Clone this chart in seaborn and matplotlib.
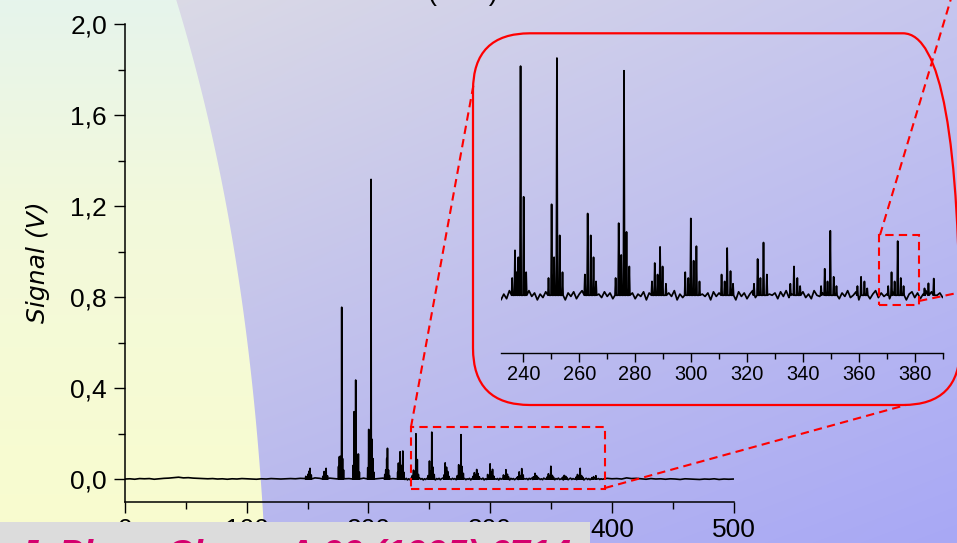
import numpy as np
import pandas as pd
import matplotlib
matplotlib.use("Agg")
import matplotlib.pyplot as plt
import seaborn as sns
from matplotlib.patches import FancyBboxPatch, Rectangle
from matplotlib.lines import Line2D
from matplotlib.ticker import FixedLocator, FixedFormatter, MultipleLocator

# ---------------------------------------------------------------
# Mass spectrum: peak lines (mass in amu, signal in V)
# ---------------------------------------------------------------
peak_mass = [
    148.5, 150.5, 151.3, 152.0, 153.0,
    162.5, 163.6, 164.5, 165.2, 166.3,
    175.4, 176.1, 176.8, 177.4, 178.0, 178.7, 179.5,
    187.4, 188.2, 188.8, 189.5, 190.2, 190.9, 191.7, 192.5,
    199.4, 200.2, 200.9, 201.5, 202.1, 202.8, 203.6, 204.4,
    213.4, 214.2, 215.0, 215.6, 216.4, 217.2,
    224.0, 224.6, 225.3, 226.0, 226.8, 227.5, 228.2, 229.0,
    236.0, 237.0, 237.6, 238.2, 239.0, 240.1, 241.0,
    249.0, 250.1, 251.0, 252.0, 253.0, 254.0,
    262.0, 263.0, 264.1, 265.1, 266.0,
    273.0, 274.1, 275.0, 276.0, 276.9, 277.9,
    286.0, 287.0, 288.0, 288.9, 289.8, 291.0,
    297.9, 299.0, 299.9, 300.9, 301.9, 303.0,
    310.9, 312.0, 312.9, 314.1, 315.0,
    322.5, 323.8, 324.8, 325.9, 327.1,
    335.5, 336.8, 338.0, 339.0,
    346.5, 347.8, 348.8, 349.8, 351.0, 352.0,
    359.5, 360.8, 362.0, 363.0,
    370.5, 371.7, 372.8, 373.9, 375.0, 376.0,
    383.5, 384.9, 386.8,
]
peak_signal = [
    0.012, 0.022, 0.035, 0.047, 0.018,
    0.012, 0.033, 0.028, 0.047, 0.014,
    0.055, 0.098, 0.100, 0.070, 0.755, 0.090, 0.040,
    0.060, 0.296, 0.130, 0.435, 0.110, 0.090, 0.110, 0.030,
    0.050, 0.218, 0.160, 0.120, 1.317, 0.175, 0.090, 0.030,
    0.020, 0.040, 0.090, 0.135, 0.040, 0.015,
    0.030, 0.070, 0.050, 0.120, 0.060, 0.040, 0.123, 0.030,
    0.015, 0.039, 0.020, 0.033, 0.199, 0.0855, 0.020,
    0.015, 0.079, 0.033, 0.206, 0.052, 0.020,
    0.018, 0.071, 0.052, 0.033, 0.012,
    0.015, 0.0626, 0.035, 0.195, 0.055, 0.025,
    0.012, 0.028, 0.018, 0.042, 0.025, 0.010,
    0.020, 0.015, 0.0667, 0.030, 0.0426, 0.012,
    0.018, 0.012, 0.041, 0.021, 0.010,
    0.010, 0.0315, 0.015, 0.0458, 0.018,
    0.010, 0.025, 0.015, 0.008,
    0.008, 0.023, 0.012, 0.056, 0.016, 0.008,
    0.008, 0.016, 0.012, 0.006,
    0.008, 0.020, 0.012, 0.047, 0.015, 0.008,
    0.006, 0.0104, 0.0145,
]

# Baseline readings (mV) between the peaks
base_low_mass = np.arange(0, 229, 4)
base_low_mv = [
    0, 1, -1, 2, 1, 2, -1, 1, 3, 4,
    6, 8, 5, 6, 4, 3, 2, 1, 2, 0,
    1, -1, 1, 0, 2, 1, 0, -1, 1, 0,
    2, 1, 0, 1, 2, 1, 3, 2, 4, 5,
    3, 6, 4, 2, 3, 1, 2, 3, 1, 4,
    2, 3, 2, 4, 3, 2, 1, 3,
]
base_mid_mass = np.arange(230, 393, 1)
base_mid_mv = [
    -2, 3, -4, 1, -3, 4, -1, 2, -3, 1,
    3, -2, 4, -1, 2, -4, 1, -2, 3, 0,
    2, -3, 4, -2, 1, -4, 2, -1, 3, -3,
    1, 4, -2, 3, -1, 2, -4, 1, -2, 3,
    -1, 2, -3, 4, 0, 3, -2, 1, -4, 2,
    -3, 1, -1, 3, -4, 2, 0, 4, -2, 1,
    3, -3, 2, -1, 4, -4, 1, -2, 2, 0,
    4, -2, 3, -3, 1, -1, 2, -4, 3, -1,
    2, -3, 4, 0, -2, 1, -4, 3, -1, 2,
    -3, 1, 4, -2, 2, -1, 3, -4, 1, 0,
    2, -3, 3, -1, 4, -2, 1, -4, 2, -1,
    3, -2, 1, -3, 4, 0, -1, 2, -4, 3,
    -2, 1, 3, -3, 2, -1, 4, -2, 0, 3,
    -4, 2, -1, 3, -3, 1, 4, -2, 2, -1,
    1, -3, 3, -2, 4, -1, 2, -4, 1, 3,
    -2, 2, -3, 1, 4, -1, 3, -3, 0, 2,
    -2, 1, -1,
]
base_high_mass = np.arange(396, 501, 4)
base_high_mv = [
    3, 1, 2, 0, 5, 2, 3, 1, -1, 2,
    0, 1, -1, 1, 0, -2, 1, 0, -1, -2,
    0, -1, 1, -2, 0, -1, 0,
]

# Axis ticks
main_xticks = [0, 100, 200, 300, 400, 500]
main_xlabels = ["0", "100", "200", "300", "400", "500"]
main_yticks = [0.0, 0.4, 0.8, 1.2, 1.6, 2.0]
main_ylabels = ["0,0", "0,4", "0,8", "1,2", "1,6", "2,0"]
zoom_xticks = [240, 260, 280, 300, 320, 340, 360, 380]
zoom_xlabels = ["240", "260", "280", "300", "320", "340", "360", "380"]

# ---------------------------------------------------------------
# Assemble the trace: baseline points plus narrow peak lines
# ---------------------------------------------------------------
pk_m = np.array(peak_mass)
pk_v = np.array(peak_signal)
base_m = np.concatenate([base_low_mass, base_mid_mass, base_high_mass]).astype(float)
base_v = np.concatenate([base_low_mv, base_mid_mv, base_high_mv]) / 1000.0
keep = np.min(np.abs(base_m[:, None] - pk_m[None, :]), axis=1) > 0.3
foot = 0.22
xs = np.concatenate([base_m[keep], pk_m - foot, pk_m, pk_m + foot])
ys = np.concatenate([base_v[keep], np.zeros_like(pk_m), pk_v, np.zeros_like(pk_m)])
order = np.argsort(xs, kind="stable")
spectrum = pd.DataFrame({"mass": xs[order], "signal": ys[order]})

# ---------------------------------------------------------------
# Figure
# ---------------------------------------------------------------
sns.set_style("ticks")
plt.rcParams["font.family"] = ["Liberation Sans", "DejaVu Sans"]

W, H = 957, 543
fig = plt.figure(figsize=(W / 100, H / 100), dpi=100)


def fx(px):
    return px / W


def fy(py):
    return 1 - py / H


# Slide background: pale yellow panel on the left, lavender sweep on the right
bg = fig.add_axes([0, 0, 1, 1], zorder=-10)
yy, xx = np.mgrid[0:H, 0:W].astype(float)
u = xx / (W - 1)
v = yy / (H - 1)
tl, tr = np.array([223, 222, 228]), np.array([198, 198, 238])
bl, br = np.array([188, 188, 236]), np.array([168, 168, 245])
right = ((1 - u)[..., None] * (1 - v)[..., None] * tl + u[..., None] * (1 - v)[..., None] * tr
         + (1 - u)[..., None] * v[..., None] * bl + u[..., None] * v[..., None] * br)
stops_y = np.array([0, 200, 543])
stops_c = np.array([[230, 244, 236], [242, 249, 220], [249, 252, 206]])
left = np.stack([np.interp(yy, stops_y, stops_c[:, k]) for k in range(3)], axis=-1)
edge_coef = np.polyfit([0, 100, 200, 270, 437, 520, 543], [177, 200, 227, 238, 255, 263, 265], 3)
edge = np.polyval(edge_coef, yy)
alpha = np.clip(edge - xx + 0.5, 0, 1)[..., None]
img = (left * alpha + right * (1 - alpha)) / 255.0
bg.imshow(img, extent=[0, 1, 0, 1], aspect="auto", interpolation="bilinear")
bg.set_xlim(0, 1)
bg.set_ylim(0, 1)
bg.axis("off")

# Main spectrum
ax = fig.add_axes([fx(125), fy(502), (733.7 - 125) / W, (502 - 24) / H])
ax.patch.set_alpha(0)
sns.lineplot(data=spectrum, x="mass", y="signal", ax=ax, color="black",
             lw=1.2, estimator=None, sort=False)
ax.set_xlim(0, 500)
ax.set_ylim(-0.101, 2.0)
ax.set_xlabel("")
ax.set_ylabel("")
for s in ("top", "right"):
    ax.spines[s].set_visible(False)
for s in ("left", "bottom"):
    ax.spines[s].set_linewidth(1.1)
    ax.spines[s].set_color("black")
ax.xaxis.set_major_locator(FixedLocator(main_xticks))
ax.xaxis.set_major_formatter(FixedFormatter(main_xlabels))
ax.yaxis.set_major_locator(FixedLocator(main_yticks))
ax.yaxis.set_major_formatter(FixedFormatter(main_ylabels))
ax.xaxis.set_minor_locator(MultipleLocator(50))
ax.yaxis.set_minor_locator(MultipleLocator(0.2))
ax.tick_params(which="major", length=8, width=1.0, direction="out", labelsize=19, colors="black")
ax.tick_params(which="minor", length=5, width=1.0, direction="out", colors="black")
ax.tick_params(axis="x", which="major", pad=3.5)
ax.tick_params(axis="y", which="major", pad=5)

dash = (0, (4, 2.5))
ax.add_patch(Rectangle((235, -0.043), 159.3, 0.273, fill=False, ec="red",
                       lw=1.5, ls=dash, zorder=5, clip_on=False))

fig.text(fx(38), fy(262), "Signal (V)", rotation=90, ha="center", va="center",
         fontsize=18, family=["DejaVu Sans"], style="italic", color="black")

# Zoomed view of the 232-390 amu range
ins = fig.add_axes([fx(501), fy(353.3), (942.7 - 501) / W, (353.3 - 50) / H])
ins.patch.set_alpha(0)
sns.lineplot(data=spectrum, x="mass", y="signal", ax=ins, color="black",
             lw=1.25, estimator=None, sort=False)
ins.set_xlim(232, 390)
ins.set_ylim(-0.0504, 0.213)
ins.set_xlabel("")
ins.set_ylabel("")
for s in ("top", "right", "left"):
    ins.spines[s].set_visible(False)
ins.spines["bottom"].set_linewidth(1.0)
ins.spines["bottom"].set_color("black")
ins.set_yticks([])
ins.xaxis.set_major_locator(FixedLocator(zoom_xticks))
ins.xaxis.set_major_formatter(FixedFormatter(zoom_xlabels))
ins.xaxis.set_minor_locator(MultipleLocator(10))
ins.tick_params(which="major", length=6.5, width=1.0, direction="out", labelsize=14.4,
                pad=2, colors="black")
ins.tick_params(which="minor", length=4, width=1.0, direction="out", colors="black")
ins.add_patch(Rectangle((367.1, -0.0084), 14.3, 0.0608, fill=False, ec="red",
                        lw=1.5, ls=dash, zorder=5, clip_on=False))

# Rounded frame around the zoomed view
frame = FancyBboxPatch((4.73, (H - 405) / 100), 4.87, (405 - 33.3) / 100,
                       boxstyle="round,pad=0,rounding_size=0.57",
                       transform=fig.dpi_scale_trans, fill=False, ec="red",
                       lw=1.6, zorder=3)
fig.add_artist(frame)

# Dashed connectors
for (x0, y0), (x1, y1) in [((411, 427), (474, 82)),
                           ((605, 488), (906, 405)),
                           ((880, 235), (953, -8)),
                           ((919, 301), (962, 292))]:
    fig.add_artist(Line2D([fx(x0), fx(x1)], [fy(y0), fy(y1)], transform=fig.transFigure,
                          color="red", lw=1.5, ls=dash, zorder=4))

# Slide title (mostly above the visible area)
fig.text(fx(463), fy(0), "(amu)", ha="center", va="baseline", fontsize=19.5, color="black")

# Reference banner along the bottom
fig.add_artist(Rectangle((0, 0), fx(590), (H - 522) / H, transform=fig.transFigure,
                         fc="#dcdcdc", ec="none", zorder=10))
fig.text(fx(18), fy(566), "J. Phys. Chem. A 99 (1995) 6714", fontsize=26.4,
         weight="bold", style="italic", color="#d4006e", va="baseline", ha="left", zorder=11)

fig.savefig("out.png", dpi=100)
